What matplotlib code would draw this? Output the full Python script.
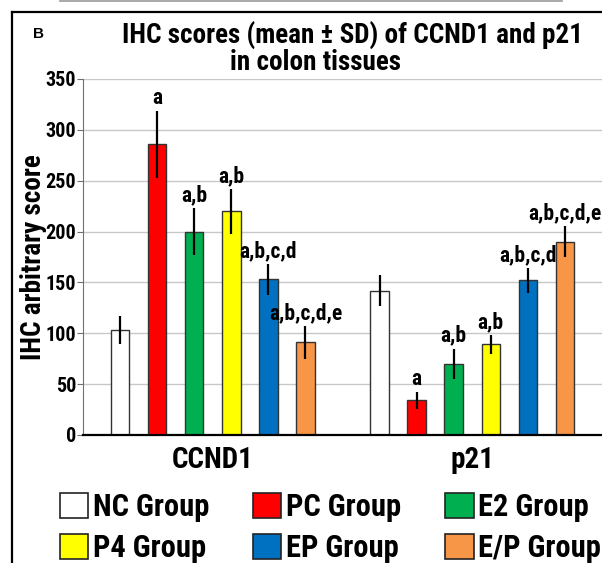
import numpy as np
import matplotlib
matplotlib.use("Agg")
from matplotlib import pyplot as plt
from matplotlib.patches import Patch
from matplotlib.lines import Line2D
from matplotlib import transforms

plt.rcParams['font.family'] = ['Roboto Condensed', 'Liberation Sans', 'DejaVu Sans']
plt.rcParams['font.weight'] = 'bold'

# data
markers = ["CCND1", "p21"]
groups = ["NC Group", "PC Group", "E2 Group", "P4 Group", "EP Group", "E/P Group"]
colors = ["#FFFFFF", "#FF0000", "#00B050", "#FFFF00", "#0070C0", "#F79646"]
ccnd1_mean = [103, 286, 200, 220, 153, 91]
ccnd1_sd = [14, 33, 23, 22, 15, 16]
p21_mean = [142, 34, 70, 89, 152, 190]
p21_sd = [15, 8, 15, 9, 12, 15]
sig = ["", "a", "a,b", "a,b", "a,b,c,d", "a,b,c,d,e"]
yticks = [0, 50, 100, 150, 200, 250, 300, 350]

W, H = 602, 563
fig = plt.figure(figsize=(W / 100, H / 100), dpi=100)
ax = fig.add_axes([83 / W, 1 - 435 / H, 1 - 83 / W, 356 / H])

means = [ccnd1_mean, p21_mean]
sds = [ccnd1_sd, p21_sd]
for g in range(2):
    x = np.arange(6) + g * 7
    ax.bar(x, means[g], width=0.5, color=colors, edgecolor="#333333",
           linewidth=1, zorder=3)
    ax.errorbar(x, means[g], yerr=sds[g], fmt="none", ecolor="black",
                elinewidth=1.6, capsize=0, zorder=4)
    for i in range(6):
        if sig[i]:
            ax.annotate(sig[i], (x[i], means[g][i] + sds[g][i]),
                        xytext=(0, 5), textcoords="offset points",
                        ha="center", va="baseline", fontsize=15.5,
                        fontweight="bold")

ax.set_xlim(-1.0, 13.0)
ax.set_ylim(0, 350)
ax.set_yticks(yticks)
ax.set_xticks([])
ax.grid(axis="y", color="#C8C8C8", linewidth=1, zorder=0)
ax.set_axisbelow(True)
for s in ["top", "right"]:
    ax.spines[s].set_visible(False)
ax.spines["left"].set_color("#707070")
ax.spines["bottom"].set_color("black")
ax.spines["bottom"].set_linewidth(1.6)
ax.spines["bottom"].set_zorder(5)
ax.tick_params(axis="y", direction="out", length=4, color="#707070",
               labelsize=14.5, pad=1)
for lab in ax.get_yticklabels():
    lab.set_fontweight("bold")
ax.set_ylabel("IHC arbitrary score", fontsize=19.5, fontweight="bold")
ax.yaxis.set_label_coords(-0.07, 0.5)

trans = transforms.blended_transform_factory(ax.transData, ax.transAxes)
for g in range(2):
    ax.text(2.5 + g * 7, -0.03, markers[g], transform=trans, ha="center",
            va="top", fontsize=21, fontweight="bold")

fig.text(353 / W, 1 - 44 / H, "IHC scores (mean \u00b1 SD) of CCND1 and p21",
         ha="center", va="baseline", fontsize=19.5, fontweight="bold")
fig.text(316 / W, 1 - 70 / H, "in colon tissues",
         ha="center", va="baseline", fontsize=19.5, fontweight="bold")
fig.text(38 / W, 1 - 38 / H, "B", ha="center", va="baseline", fontsize=11,
         fontweight="bold", family=["Liberation Sans", "DejaVu Sans"])

handles = [Patch(facecolor=c, edgecolor="#222222", linewidth=1.2) for c in colors]
# column-major fill with ncol=3, so reorder to read NC/PC/E2 then P4/EP/E/P
order = [0, 3, 1, 4, 2, 5]
fig.legend([handles[i] for i in order], [groups[i] for i in order], ncol=3,
           loc="upper left", bbox_to_anchor=(60 / W, 1 - 492 / H),
           frameon=False, fontsize=22, handlelength=0.92, handleheight=0.88,
           handletextpad=0.15, columnspacing=1.45, labelspacing=0.35,
           borderpad=0, borderaxespad=0)

# panel frame
fig.add_artist(Line2D([12 / W, 12 / W], [0, 1 - 12 / H], transform=fig.transFigure,
                      color="black", linewidth=1.6))
fig.add_artist(Line2D([12 / W, 1], [1 - 12 / H, 1 - 12 / H], transform=fig.transFigure,
                      color="black", linewidth=1.6))
fig.add_artist(Line2D([60 / W, 562 / W], [1 - 0.8 / H, 1 - 0.8 / H],
                      transform=fig.transFigure, color="#9A9A9A", linewidth=1.2))

fig.savefig("out.png", dpi=100)
